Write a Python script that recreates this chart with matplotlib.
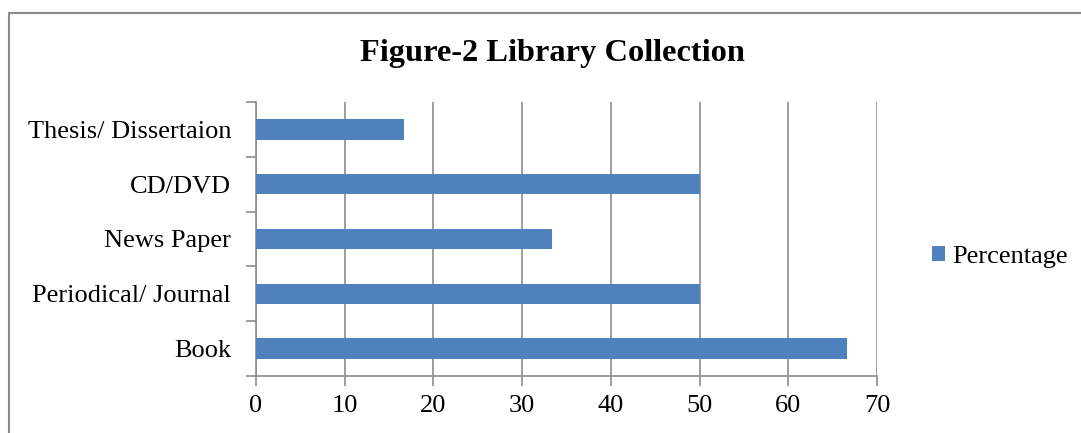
import matplotlib.pyplot as plt
from matplotlib.patches import Rectangle

categories = ['Book', 'Periodical/ Journal', 'News Paper', 'CD/DVD', 'Thesis/ Dissertaion']
percentage = [66.67, 50, 33.33, 50, 16.67]
x_ticks = [0, 10, 20, 30, 40, 50, 60, 70]

plt.rcParams['font.family'] = ['Liberation Serif', 'DejaVu Serif']

fig = plt.figure(figsize=(10.81, 4.33), dpi=100)
ax = fig.add_axes([256 / 1081, 1 - 376 / 433, (877 - 256) / 1081, (376 - 102) / 433])

# outer chart frame (open at right/bottom like the crop)
fig.patches.append(Rectangle((9 / 1081, -0.1), 1.2, 1.1 - 13 / 433, transform=fig.transFigure,
                             fill=False, edgecolor='#8c8c8c', linewidth=1.5))

ypos = range(len(categories))
ax.barh(ypos, percentage, height=0.37, color='#4f81bd', label='Percentage', zorder=3)

ax.set_xlim(0, 70)
ax.set_ylim(-0.5, len(categories) - 0.5)
ax.set_xticks(x_ticks)
ax.set_xticklabels([str(t) for t in x_ticks], fontsize=19)
ax.set_yticks([i - 0.5 for i in range(len(categories) + 1)])
ax.set_yticklabels([])
ax.set_yticks(list(ypos), minor=True)
ax.set_yticklabels(categories, minor=True, fontsize=19)
ax.tick_params(axis='y', which='minor', length=0, pad=18)
ax.tick_params(axis='y', which='major', length=7, color='#8c8c8c', width=1.2)
ax.tick_params(axis='x', length=7, color='#8c8c8c', width=1.2, pad=7)

ax.grid(axis='x', color='#8c8c8c', linewidth=1.2, zorder=0)
for s in ['top', 'right']:
    ax.spines[s].set_visible(False)
for s in ['left', 'bottom']:
    ax.spines[s].set_color('#8c8c8c')
    ax.spines[s].set_linewidth(1.2)

fig.text(552 / 1081, 1 - 53 / 433, 'Figure-2 Library Collection', ha='center', va='center',
         fontsize=23.3, fontweight='bold')

fig.legend(loc='center left', bbox_to_anchor=(932 / 1081, 1 - 257 / 433), frameon=False,
           fontsize=19, handlelength=0.5, handleheight=0.5, handletextpad=0.27,
           borderpad=0, borderaxespad=0)

fig.savefig('out.png', dpi=100)
